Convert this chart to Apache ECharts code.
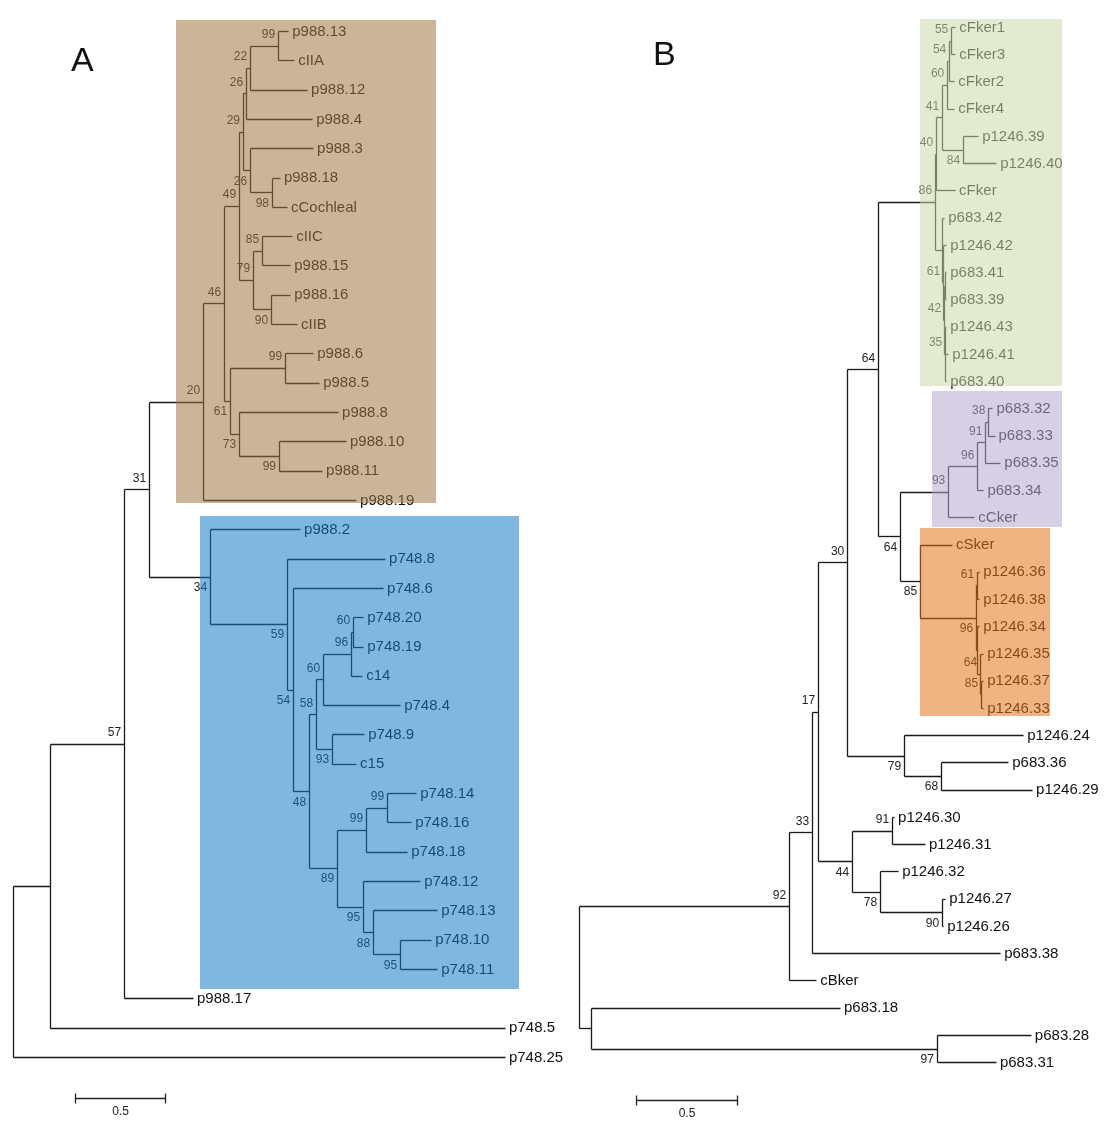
<!DOCTYPE html>
<html><head><meta charset="utf-8">
<script src="https://cdn.jsdelivr.net/npm/echarts@6/dist/echarts.min.js"></script>
<style>html,body{margin:0;padding:0;background:#fff}#c{width:1110px;height:1127px}</style>
</head><body><div id="c"></div>
<script>
// ---------------- Tree A (ids: leaf names; internal nodes start with "_") ----------------
const treeA_ids = ['_root','_n0','_a57','_a31','_a20','_a46','_a49','_a29','_a26a','_a22','_a99a','p988.13','cIIA','p988.12','p988.4','_a26b','p988.3','_a98','p988.18','cCochleal','_a79','_a85','cIIC','p988.15','_a90','p988.16','cIIB','_a61','_a99b','p988.6','p988.5','_a73','p988.8','_a99c','p988.10','p988.11','p988.19','_a34','p988.2','_a59','p748.8','_a54','p748.6','_a48','_a58','_a60','_a96','_a60b','p748.20','p748.19','c14','p748.4','_a93','p748.9','c15','_a89','_a99d','_a99e','p748.14','p748.16','p748.18','_a95a','p748.12','_a88','p748.13','_a95b','p748.10','p748.11','p988.17','p748.5','p748.25'];
const treeA_parent = [null,'_root','_n0','_a57','_a31','_a20','_a46','_a49','_a29','_a26a','_a22','_a99a','_a99a','_a22','_a26a','_a29','_a26b','_a26b','_a98','_a98','_a49','_a79','_a85','_a85','_a79','_a90','_a90','_a46','_a61','_a99b','_a99b','_a61','_a73','_a73','_a99c','_a99c','_a20','_a31','_a34','_a34','_a59','_a59','_a54','_a54','_a48','_a58','_a60','_a96','_a60b','_a60b','_a96','_a60','_a58','_a93','_a93','_a48','_a89','_a99d','_a99e','_a99e','_a99d','_a89','_a95a','_a95a','_a88','_a88','_a95b','_a95b','_a57','_n0','_root'];
const treeA_length = [0,0.206,0.411,0.139,0.300,0.117,0.083,0.022,0.017,0.022,0.156,0.056,0.089,0.317,0.367,0.039,0.350,0.122,0.044,0.083,0.078,0.050,0.167,0.156,0.100,0.106,0.144,0.033,0.306,0.156,0.189,0.050,0.550,0.222,0.372,0.239,0.850,0.339,0.500,0.428,0.544,0.033,0.500,0.089,0.039,0.039,0.156,0.011,0.056,0.056,0.061,0.428,0.089,0.178,0.133,0.156,0.161,0.117,0.161,0.133,0.228,0.144,0.317,0.056,0.356,0.150,0.172,0.206,0.383,2.528,2.733];
const treeA_support = ['','','57','31','20','46','49','29','26','22','99','','','','','26','','98','','','79','85','','','90','','','61','99','','','73','','99','','','','34','','59','','54','','48','58','60','96','60','','','','','93','','','89','99','99','','','','95','','88','','95','','','','',''];

// ---------------- Tree B ----------------
const treeB_ids = ['_rootB','_b92','_b33','_b17','_b30','_b64t','_b86','_b40','_b41','_b60','_b54','_b55','cFker1','cFker3','cFker2','cFker4','_b84','p1246.39','p1246.40','cFker','_bz','p683.42','_b61g','p1246.42','_b42','_bx','p683.41','p683.39','_b35','p1246.43','p1246.41','p683.40','_b64b','_b93','_b96p','_b91','_b38','p683.32','p683.33','p683.35','p683.34','cCker','_b85','cSker','_b96o','_b61o','p1246.36','p1246.38','_bxo','p1246.34','_b64o','p1246.35','_b85o','p1246.37','p1246.33','_b79','p1246.24','_b68','p683.36','p1246.29','_b44','_b91b','p1246.30','p1246.31','_b78','p1246.32','_b90','p1246.27','p1246.26','p683.38','cBker','_bout','p683.18','_b97','p683.28','p683.31'];
const treeB_parent = [null,'_rootB','_b92','_b33','_b17','_b30','_b64t','_b86','_b40','_b41','_b60','_b54','_b55','_b55','_b54','_b60','_b41','_b84','_b84','_b40','_b86','_bz','_bz','_b61g','_b61g','_b42','_bx','_bx','_b42','_b35','_b35','_b35','_b64t','_b64b','_b93','_b96p','_b91','_b38','_b38','_b91','_b96p','_b93','_b64b','_b85','_b85','_b96o','_b61o','_b61o','_b96o','_bxo','_bxo','_b64o','_b64o','_b85o','_b85o','_b30','_b79','_b79','_b68','_b68','_b17','_b44','_b91b','_b91b','_b44','_b78','_b78','_b90','_b90','_b33','_b92','_rootB','_bout','_bout','_b97','_b97'];
const treeB_length = [0,1.040,0.114,0.030,0.144,0.153,0.282,0.005,0.030,0.025,0.010,0.010,0.020,0.020,0.025,0.035,0.104,0.074,0.163,0.094,0.035,0.010,0.005,0.015,0.005,0.005,0.005,0.005,0.005,0.005,0.015,0.005,0.109,0.238,0.144,0.040,0.015,0.020,0.030,0.074,0.030,0.129,0.099,0.158,0.277,0.005,0.010,0.010,0.005,0.010,0.015,0.015,0.005,0.010,0.010,0.282,0.589,0.183,0.332,0.450,0.168,0.198,0.010,0.163,0.139,0.089,0.307,0.015,0.005,0.931,0.134,0.059,1.233,1.713,0.465,0.292];
const treeB_support = ['','92','33','17','30','64','86','40','41','60','54','55','','','','','84','','','','','','61','','42','','','','35','','','','64','93','96','91','38','','','','','','85','','96','61','','','','','64','','85','','','79','','68','','','44','91','','','78','','90','','','','','','','97','',''];

// scale-bar value (branch-length units)
const scaleValue = 0.5;
const scaleLabel = '0.5';
const panelLabels = ['A','B'];

// ---------------- placement of support labels (style only: false = below node) ----------------
const supportAboveA = {'_a26b':false,'_a98':false,'_a90':false,'_a61':false,'_a73':false,'_a99c':false,'_a34':false,'_a59':false,'_a54':false,'_a48':false,'_a93':false,'_a89':false,'_a95a':false,'_a88':false,'_a95b':false};
const supportAboveB = {'_b84':false,'_b64b':false,'_b85':false,'_b96o':false,'_b79':false,'_b68':false,'_b44':false,'_b78':false,'_b90':false,'_b97':false};

function layout(ids, parents, lengths) {
  const n = ids.length, idx = {}, children = ids.map(() => []);
  ids.forEach((id, i) => idx[id] = i);
  const depth = new Array(n), y = new Array(n);
  let root = 0;
  for (let i = 0; i < n; i++) {
    const p = parents[i];
    if (p === null) { depth[i] = 0; root = i; }
    else { const pi = idx[p]; children[pi].push(i); depth[i] = depth[pi] + lengths[i]; }
  }
  let leaf = 0;
  (function setY(i) {
    if (!children[i].length) { y[i] = leaf++; return; }
    children[i].forEach(setY);
    const c = children[i];
    y[i] = (y[c[0]] + y[c[c.length - 1]]) / 2;
  })(root);
  return { depth, y, children, idx, parents };
}

function buildSeries(ids, parents, lengths, support, above, gi) {
  const L = layout(ids, parents, lengths);
  const segs = [], leaves = [], sups = [];
  ids.forEach((id, i) => {
    if (parents[i] !== null) {
      const pi = L.idx[parents[i]];
      segs.push([L.depth[pi], L.y[i], L.depth[i], L.y[i]]);
    }
    const c = L.children[i];
    if (c.length) {
      segs.push([L.depth[i], L.y[c[0]], L.depth[i], L.y[c[c.length - 1]]]);
      if (support[i]) sups.push([L.depth[i], L.y[i], support[i], above[id] === false ? 1 : -1]);
    } else {
      leaves.push([L.depth[i], L.y[i], id]);
    }
  });
  const crisp = v => Math.round(v) + 0.5;
  return [
    {
      type: 'custom', xAxisIndex: gi, yAxisIndex: gi, z: 2, silent: true,
      data: segs, encode: { x: [0, 2], y: [1, 3] },
      renderItem: (p, api) => {
        const a = api.coord([api.value(0), api.value(1)]);
        const b = api.coord([api.value(2), api.value(3)]);
        return { type: 'line', shape: { x1: crisp(a[0]), y1: crisp(a[1]), x2: crisp(b[0]), y2: crisp(b[1]) },
          style: { stroke: '#1a1a1a', lineWidth: 1.3 } };
      }
    },
    {
      type: 'custom', xAxisIndex: gi, yAxisIndex: gi, z: 3, silent: true,
      data: leaves, encode: { x: 0, y: 1 },
      renderItem: (p, api) => {
        const a = api.coord([api.value(0), api.value(1)]);
        return { type: 'text', style: { text: leaves[p.dataIndex][2], x: a[0] + 4, y: a[1] + 0.5,
          fill: '#111', font: '15px "Liberation Sans", Arial, sans-serif',
          textAlign: 'left', align: 'left', textVerticalAlign: 'middle', verticalAlign: 'middle' } };
      }
    },
    {
      type: 'custom', xAxisIndex: gi, yAxisIndex: gi, z: 3, silent: true,
      data: sups, encode: { x: 0, y: 1 },
      renderItem: (p, api) => {
        const a = api.coord([api.value(0), api.value(1)]);
        const d = sups[p.dataIndex];
        return { type: 'text', style: { text: d[2], x: a[0] - 3, y: a[1] + d[3] * 11,
          fill: '#222', font: '12px "Liberation Sans", Arial, sans-serif',
          textAlign: 'right', align: 'right', textVerticalAlign: 'middle', verticalAlign: 'middle' } };
      }
    }
  ];
}

// clade highlight boxes, in axis units: [grid, x0, x1, y0 (leaf units), y1, fill]
const highlights = [
  [0, 0.906, 2.350, -0.375, 16.10, 'rgba(161,118,66,0.55)'],
  [0, 1.039, 2.811, 16.55, 32.69, 'rgba(24,123,199,0.55)'],
  [1, 1.688, 2.391, -0.294, 13.18, 'rgba(202,217,173,0.55)'],
  [1, 1.748, 2.391, 13.36, 18.36, 'rgba(182,170,206,0.55)'],
  [1, 1.688, 2.332, 18.39, 25.29, 'rgba(228,118,30,0.55)']
];
// scale bars: [grid, x start, y (leaf units)]
const scaleBars = [[0, 0.344, 36.4], [1, 0.282, 39.4]];

const series = [];
series.push(...buildSeries(treeA_ids, treeA_parent, treeA_length, treeA_support, supportAboveA, 0));
series.push(...buildSeries(treeB_ids, treeB_parent, treeB_length, treeB_support, supportAboveB, 1));

[0, 1].forEach(gi => {
  const hl = highlights.filter(h => h[0] === gi).map(h => h.slice(1));
  series.push({
    type: 'custom', xAxisIndex: gi, yAxisIndex: gi, z: 10, silent: true,
    data: hl.map(h => [h[0], h[1], h[2], h[3]]), encode: { x: [0, 1], y: [2, 3] },
    renderItem: (p, api) => {
      const a = api.coord([api.value(0), api.value(2)]);
      const b = api.coord([api.value(1), api.value(3)]);
      return { type: 'rect', shape: { x: Math.round(a[0]), y: Math.round(a[1]), width: Math.round(b[0] - a[0]), height: Math.round(b[1] - a[1]) },
        style: { fill: hl[p.dataIndex][4] } };
    }
  });
  const sb = scaleBars.filter(s => s[0] === gi).map(s => [s[1], s[2]]);
  series.push({
    type: 'custom', xAxisIndex: gi, yAxisIndex: gi, z: 3, silent: true,
    data: sb, encode: { x: 0, y: 1 },
    renderItem: (p, api) => {
      const a = api.coord([api.value(0), api.value(1)]);
      const b = api.coord([api.value(0) + scaleValue, api.value(1)]);
      const y = Math.round(a[1]) + 0.5, x1 = Math.round(a[0]) + 0.5, x2 = Math.round(b[0]) + 0.5;
      const st = { stroke: '#222', lineWidth: 1.3 };
      return { type: 'group', children: [
        { type: 'line', shape: { x1, y1: y, x2, y2: y }, style: st },
        { type: 'line', shape: { x1, y1: y - 5, x2: x1, y2: y + 5 }, style: st },
        { type: 'line', shape: { x1: x2, y1: y - 5, x2, y2: y + 5 }, style: st },
        { type: 'text', style: { text: scaleLabel, x: (x1 + x2) / 2, y: y + 13, fill: '#222',
          font: '12px "Liberation Sans", Arial, sans-serif', textAlign: 'center', align: 'center',
          textVerticalAlign: 'middle', verticalAlign: 'middle' } }
      ] };
    }
  });
});

const chart = echarts.init(document.getElementById('c'), null, { renderer: 'canvas' });
chart.setOption({
  animation: false,
  backgroundColor: '#fff',
  grid: [
    { left: 4, top: 1.69, width: 549, height: 1113.8, outerBoundsMode: 'none', containLabel: false },
    { left: 568.9, top: 2.5, width: 515.1, height: 1114.1, outerBoundsMode: 'none', containLabel: false }
  ],
  xAxis: [
    { gridIndex: 0, type: 'value', min: -0.05, max: 3.0, show: false },
    { gridIndex: 1, type: 'value', min: -0.05, max: 2.5, show: false }
  ],
  yAxis: [
    { gridIndex: 0, type: 'value', min: -1, max: 37, inverse: true, show: false },
    { gridIndex: 1, type: 'value', min: -0.9, max: 40, inverse: true, show: false }
  ],
  graphic: [
    { type: 'text', left: 71, top: 45, style: { text: panelLabels[0], font: '34px "Liberation Sans", Arial, sans-serif', fill: '#111' } },
    { type: 'text', left: 653, top: 39, style: { text: panelLabels[1], font: '34px "Liberation Sans", Arial, sans-serif', fill: '#111' } }
  ],
  series
});
</script></body></html>
